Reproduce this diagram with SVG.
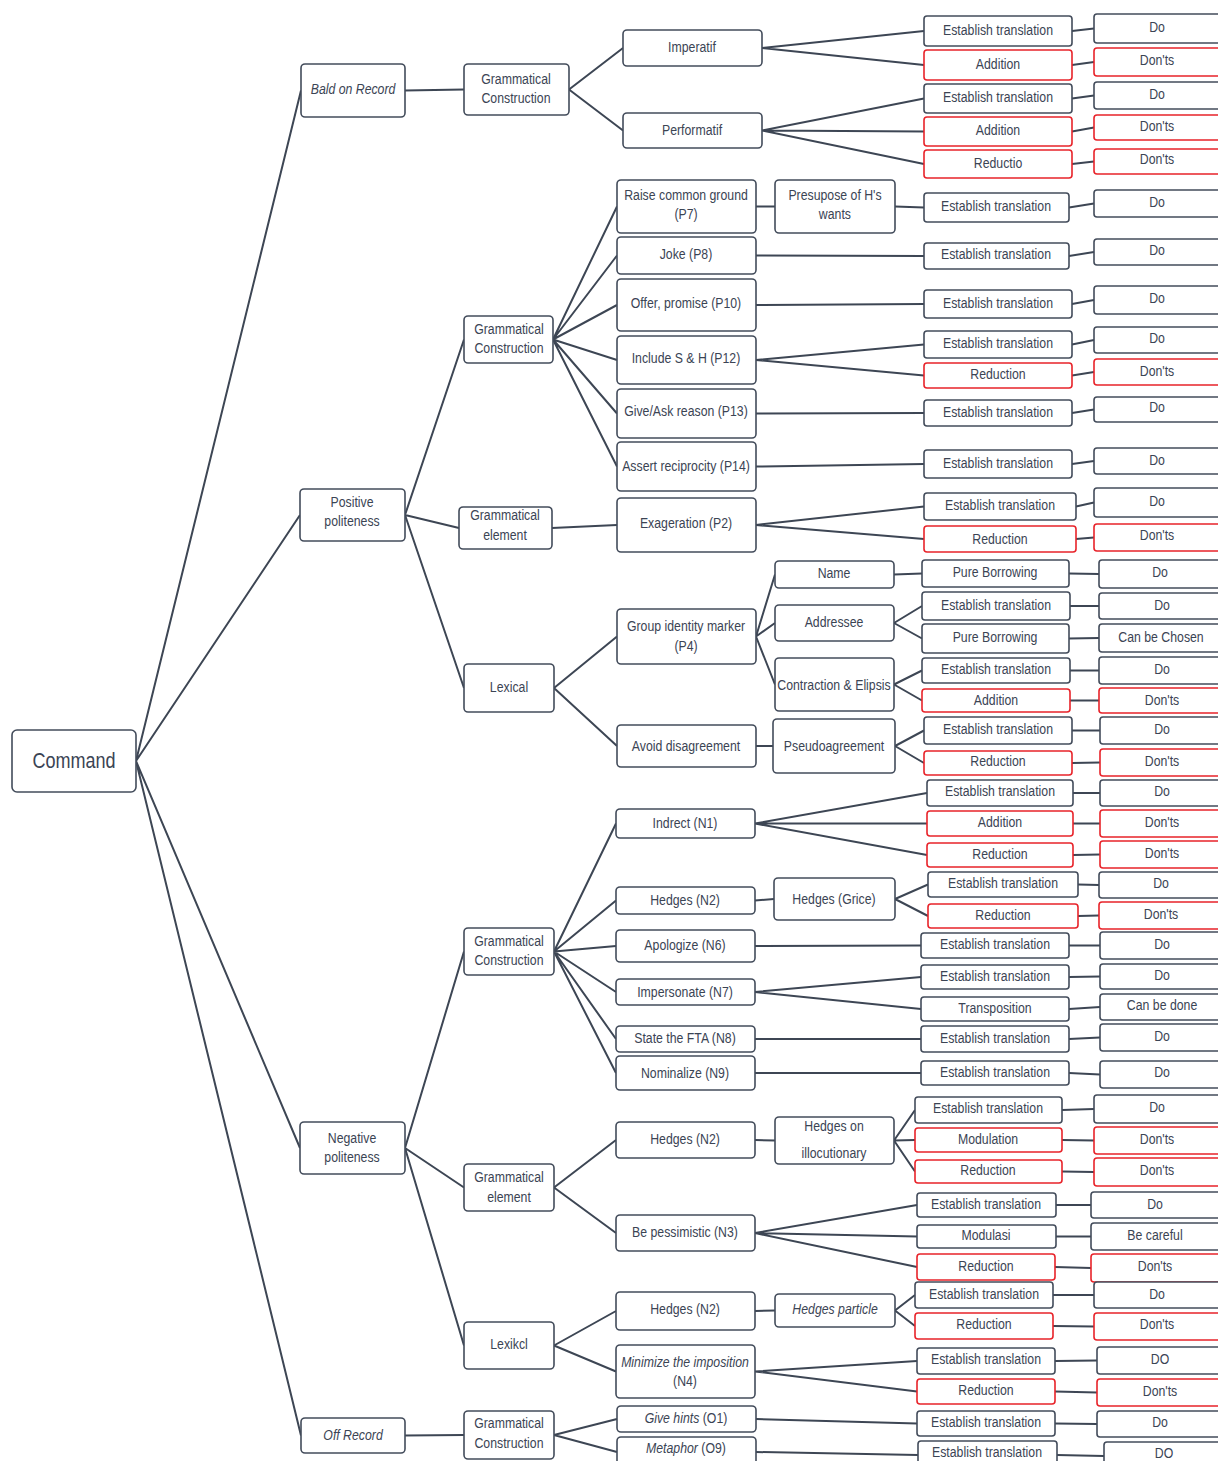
<svg xmlns="http://www.w3.org/2000/svg" width="1218" height="1461" viewBox="0 0 1218 1461">
<style>
rect{fill:#fff;stroke:#434c5b;stroke-width:1.6}
rect.r{stroke:#e8232a}
text{font-family:"Liberation Sans",Arial,sans-serif;font-size:15px;fill:#3b4454;text-anchor:middle;dominant-baseline:central;transform-box:fill-box;transform-origin:center;transform:scaleX(0.82)}
.i{font-style:italic}
.big{font-size:22px}
#connectors path{fill:none;stroke:#3d4654;stroke-width:2}
</style>
<g id="connectors">
<path d="M136,761L301,90.5M136,761L300,515M136,761L300,1148M136,761L301,1435.5"/>
<path d="M405,90.5L464,89.5M569,89.5L623,48M569,89.5L623,130.5M762,48L924,31M762,48L924,65M762,130.5L924,98.5M762,130.5L924,131.5M762,130.5L924,164"/>
<path d="M405,515L464,339.5M405,515L459,528M405,515L464,688"/>
<path d="M553,339.5L617,206.5M553,339.5L617,255.5M553,339.5L617,305M553,339.5L617,360M553,339.5L617,413.5M553,339.5L617,466.5"/>
<path d="M756,206.5L775,206.5M895,206.5L924,207.5M756,255.5L924,256M756,305L924,304M756,360L924,344.5M756,360L924,375.5M756,413.5L924,413M756,466.5L924,464"/>
<path d="M552,528L617,525M756,525L924,506.5M756,525L924,539"/>
<path d="M554,688L617,636.5M554,688L617,746M756,636.5L775,574.5M756,636.5L775,623M756,636.5L775,684.5"/>
<path d="M894,574.5L922,573.5M894,623L922,606M894,623L922,638.5M894,684.5L922,670.5M894,684.5L922,700.5M756,746L773,746M895,746L924,730.5M895,746L924,763"/>
<path d="M405,1148L464,951.5M405,1148L464,1187.5M405,1148L464,1345.5"/>
<path d="M554,951.5L616,823.5M554,951.5L616,900.5M554,951.5L616,946M554,951.5L616,992M554,951.5L616,1039M554,951.5L616,1073"/>
<path d="M755,823.5L927,793M755,823.5L927,823.5M755,823.5L927,855M755,900.5L774,899M895,899L928,884.5M895,899L928,916M755,946L921,945.5M755,992L921,977M755,992L921,1009M755,1039L921,1039M755,1073L921,1073"/>
<path d="M554,1187.5L616,1140M554,1187.5L616,1233M755,1140L775,1140.5M894,1140.5L915,1110M894,1140.5L915,1140M894,1140.5L915,1171.5M755,1233L917,1205M755,1233L917,1236.5M755,1233L917,1267"/>
<path d="M554,1345.5L616,1311M554,1345.5L616,1371.5M755,1311L775,1310.5M895,1310.5L915,1295M895,1310.5L915,1326M755,1371.5L917,1361M755,1371.5L917,1391.5"/>
<path d="M405,1435.5L464,1435M554,1435L617,1419M554,1435L617,1452M756,1419L917,1423.5M756,1452L918,1455"/>
<path d="M1072,31L1094,28.5M1072,65L1094,62M1072,98.5L1094,95.5M1072,131.5L1094,127.5M1072,164L1094,161.5M1069,207.5L1094,203.5M1069,256L1094,252M1072,304L1094,300M1072,344.5L1094,340M1072,375.5L1094,372M1072,413L1094,409.5M1072,464L1094,461M1076,506.5L1094,502.5M1076,539L1094,537.5"/>
<path d="M1069,573.5L1099,574M1070,606L1099,606M1069,638.5L1099,638M1070,670.5L1099,670.5M1070,700.5L1099,700.5M1072,730.5L1100,730.5M1072,763L1100,762.5M1073,793L1100,793M1073,823.5L1100,823.5M1073,855L1100,854.5M1078,884.5L1099,885M1078,916L1099,915.5"/>
<path d="M1069,945.5L1100,945.5M1069,977L1100,976.5M1069,1009L1100,1007M1069,1039L1100,1037.5M1069,1073L1100,1074.5M1062,1110L1094,1109M1062,1140L1094,1140.5M1062,1171.5L1094,1172M1056,1205L1091,1205M1056,1236.5L1091,1236.5M1055,1267L1091,1268M1053,1295L1094,1295M1053,1326L1094,1326.5M1055,1361L1097,1360.5M1055,1391.5L1097,1392.5M1055,1423.5L1097,1424M1057,1455L1104,1456"/>
</g>
<g id="command"><rect x="12" y="730" width="124" height="62" rx="5"/><text class="big" x="74" y="760">Command</text></g>
<g id="bald"><rect x="301" y="64" width="104" height="53" rx="4"/><text class="i" x="353" y="89">Bald on Record</text></g>
<g id="positive"><rect x="300" y="489" width="105" height="52" rx="4"/><text x="352" y="502">Positive</text><text x="352" y="521">politeness</text></g>
<g id="negative"><rect x="300" y="1122" width="105" height="52" rx="4"/><text x="352" y="1138">Negative</text><text x="352" y="1157">politeness</text></g>
<g id="off"><rect x="301" y="1418" width="104" height="35" rx="4"/><text class="i" x="353" y="1435">Off Record</text></g>
<g id="gc1"><rect x="464" y="64" width="105" height="51" rx="4"/><text x="516" y="79">Grammatical</text><text x="516" y="98">Construction</text></g>
<g id="gc2"><rect x="464" y="316" width="89" height="47" rx="4"/><text x="509" y="329">Grammatical</text><text x="509" y="348">Construction</text></g>
<g id="ge1"><rect x="459" y="507" width="93" height="42" rx="4"/><text x="505" y="515">Grammatical</text><text x="505" y="535">element</text></g>
<g id="lex1"><rect x="464" y="664" width="90" height="48" rx="4"/><text x="509" y="687">Lexical</text></g>
<g id="gc3"><rect x="464" y="928" width="90" height="47" rx="4"/><text x="509" y="941">Grammatical</text><text x="509" y="960">Construction</text></g>
<g id="ge2"><rect x="464" y="1164" width="90" height="47" rx="4"/><text x="509" y="1177">Grammatical</text><text x="509" y="1197">element</text></g>
<g id="lex2"><rect x="464" y="1322" width="90" height="47" rx="4"/><text x="509" y="1344">Lexikcl</text></g>
<g id="gc4"><rect x="464" y="1411" width="90" height="48" rx="4"/><text x="509" y="1423">Grammatical</text><text x="509" y="1443">Construction</text></g>
<g id="imp"><rect x="623" y="30" width="139" height="36" rx="4"/><text x="692" y="47">Imperatif</text></g>
<g id="perf"><rect x="623" y="113" width="139" height="35" rx="4"/><text x="692" y="130">Performatif</text></g>
<g id="raise"><rect x="617" y="180" width="139" height="53" rx="4"/><text x="686" y="195">Raise common ground</text><text x="686" y="214">(P7)</text></g>
<g id="joke"><rect x="617" y="237" width="139" height="37" rx="4"/><text x="686" y="254">Joke (P8)</text></g>
<g id="offer"><rect x="617" y="279" width="139" height="52" rx="4"/><text x="686" y="303">Offer, promise (P10)</text></g>
<g id="include"><rect x="617" y="336" width="139" height="48" rx="4"/><text x="686" y="358">Include S &amp; H (P12)</text></g>
<g id="give"><rect x="617" y="389" width="139" height="49" rx="4"/><text x="686" y="411">Give/Ask reason (P13)</text></g>
<g id="assert"><rect x="617" y="442" width="139" height="49" rx="4"/><text x="686" y="466">Assert reciprocity (P14)</text></g>
<g id="exag"><rect x="617" y="498" width="139" height="54" rx="4"/><text x="686" y="523">Exageration (P2)</text></g>
<g id="gim"><rect x="617" y="609" width="139" height="55" rx="4"/><text x="686" y="626">Group identity marker</text><text x="686" y="646">(P4)</text></g>
<g id="avoid"><rect x="617" y="725" width="139" height="42" rx="4"/><text x="686" y="746">Avoid disagreement</text></g>
<g id="indr"><rect x="616" y="809" width="139" height="29" rx="4"/><text x="685" y="823">Indrect (N1)</text></g>
<g id="hedg1"><rect x="616" y="887" width="139" height="27" rx="4"/><text x="685" y="900">Hedges (N2)</text></g>
<g id="apol"><rect x="616" y="930" width="139" height="32" rx="4"/><text x="685" y="945">Apologize (N6)</text></g>
<g id="imper"><rect x="616" y="979" width="139" height="26" rx="4"/><text x="685" y="992">Impersonate (N7)</text></g>
<g id="state"><rect x="616" y="1026" width="139" height="26" rx="4"/><text x="685" y="1038">State the FTA (N8)</text></g>
<g id="nomin"><rect x="616" y="1056" width="139" height="34" rx="4"/><text x="685" y="1073">Nominalize (N9)</text></g>
<g id="hedg2"><rect x="616" y="1122" width="139" height="36" rx="4"/><text x="685" y="1139">Hedges (N2)</text></g>
<g id="pess"><rect x="616" y="1215" width="139" height="36" rx="4"/><text x="685" y="1232">Be pessimistic (N3)</text></g>
<g id="hedg3"><rect x="616" y="1292" width="139" height="38" rx="4"/><text x="685" y="1309">Hedges (N2)</text></g>
<g id="minim"><rect x="616" y="1345" width="139" height="53" rx="4"/><text class="i" x="685" y="1362">Minimize the imposition</text><text x="685" y="1381">(N4)</text></g>
<g id="hints"><rect x="617" y="1406" width="139" height="26" rx="4"/><text x="686" y="1418"><tspan class="i">Give hints</tspan> (O1)</text></g>
<g id="meta"><rect x="617" y="1437" width="139" height="30" rx="4"/><text x="686" y="1448"><tspan class="i">Metaphor</tspan> (O9)</text></g>
<g id="presup"><rect x="775" y="180" width="120" height="53" rx="4"/><text x="835" y="195">Presupose of H's</text><text x="835" y="214">wants</text></g>
<g id="name"><rect x="775" y="561" width="119" height="27" rx="4"/><text x="834" y="573">Name</text></g>
<g id="addr"><rect x="775" y="605" width="119" height="36" rx="4"/><text x="834" y="622">Addressee</text></g>
<g id="contr"><rect x="775" y="658" width="119" height="53" rx="4"/><text x="834" y="685">Contraction &amp; Elipsis</text></g>
<g id="pseudo"><rect x="773" y="719" width="122" height="54" rx="4"/><text x="834" y="746">Pseudoagreement</text></g>
<g id="grice"><rect x="774" y="878" width="121" height="42" rx="4"/><text x="834" y="899">Hedges (Grice)</text></g>
<g id="hoi"><rect x="775" y="1117" width="119" height="47" rx="4"/><text x="834" y="1126">Hedges on</text><text x="834" y="1153">illocutionary</text></g>
<g id="hp"><rect x="775" y="1294" width="120" height="33" rx="4"/><text class="i" x="835" y="1309">Hedges particle</text></g>
<g id="et1"><rect x="924" y="16" width="148" height="30" rx="3"/><text x="998" y="30">Establish translation</text></g>
<g id="add1"><rect class="r" x="924" y="50" width="148" height="30" rx="3"/><text x="998" y="64">Addition</text></g>
<g id="et2"><rect x="924" y="84" width="148" height="29" rx="3"/><text x="998" y="97">Establish translation</text></g>
<g id="add2"><rect class="r" x="924" y="117" width="148" height="29" rx="3"/><text x="998" y="130">Addition</text></g>
<g id="red1"><rect class="r" x="924" y="150" width="148" height="28" rx="3"/><text x="998" y="163">Reductio</text></g>
<g id="et3"><rect x="924" y="193" width="145" height="29" rx="3"/><text x="996" y="206">Establish translation</text></g>
<g id="et4"><rect x="924" y="243" width="145" height="26" rx="3"/><text x="996" y="254">Establish translation</text></g>
<g id="et5"><rect x="924" y="290" width="148" height="28" rx="3"/><text x="998" y="303">Establish translation</text></g>
<g id="et6"><rect x="924" y="331" width="148" height="27" rx="3"/><text x="998" y="343">Establish translation</text></g>
<g id="red2"><rect class="r" x="924" y="363" width="148" height="25" rx="3"/><text x="998" y="374">Reduction</text></g>
<g id="et7"><rect x="924" y="400" width="148" height="26" rx="3"/><text x="998" y="412">Establish translation</text></g>
<g id="et8"><rect x="924" y="450" width="148" height="28" rx="3"/><text x="998" y="463">Establish translation</text></g>
<g id="et9"><rect x="924" y="493" width="152" height="27" rx="3"/><text x="1000" y="505">Establish translation</text></g>
<g id="red3"><rect class="r" x="924" y="526" width="152" height="26" rx="3"/><text x="1000" y="539">Reduction</text></g>
<g id="pb1"><rect x="922" y="560" width="147" height="27" rx="3"/><text x="995" y="572">Pure Borrowing</text></g>
<g id="et10"><rect x="922" y="592" width="148" height="28" rx="3"/><text x="996" y="605">Establish translation</text></g>
<g id="pb2"><rect x="922" y="624" width="147" height="29" rx="3"/><text x="995" y="637">Pure Borrowing</text></g>
<g id="et11"><rect x="922" y="658" width="148" height="25" rx="3"/><text x="996" y="669">Establish translation</text></g>
<g id="add3"><rect class="r" x="922" y="689" width="148" height="23" rx="3"/><text x="996" y="700">Addition</text></g>
<g id="et12"><rect x="924" y="717" width="148" height="27" rx="3"/><text x="998" y="729">Establish translation</text></g>
<g id="red4"><rect class="r" x="924" y="751" width="148" height="24" rx="3"/><text x="998" y="761">Reduction</text></g>
<g id="et13"><rect x="927" y="780" width="146" height="26" rx="3"/><text x="1000" y="791">Establish translation</text></g>
<g id="add4"><rect class="r" x="927" y="811" width="146" height="25" rx="3"/><text x="1000" y="822">Addition</text></g>
<g id="red5"><rect class="r" x="927" y="843" width="146" height="24" rx="3"/><text x="1000" y="854">Reduction</text></g>
<g id="et14"><rect x="928" y="872" width="150" height="25" rx="3"/><text x="1003" y="883">Establish translation</text></g>
<g id="red6"><rect class="r" x="928" y="904" width="150" height="24" rx="3"/><text x="1003" y="915">Reduction</text></g>
<g id="et15"><rect x="921" y="933" width="148" height="25" rx="3"/><text x="995" y="944">Establish translation</text></g>
<g id="et16"><rect x="921" y="965" width="148" height="24" rx="3"/><text x="995" y="976">Establish translation</text></g>
<g id="trans"><rect x="921" y="997" width="148" height="24" rx="3"/><text x="995" y="1008">Transposition</text></g>
<g id="et17"><rect x="921" y="1026" width="148" height="26" rx="3"/><text x="995" y="1038">Establish translation</text></g>
<g id="et18"><rect x="921" y="1061" width="148" height="24" rx="3"/><text x="995" y="1072">Establish translation</text></g>
<g id="et19"><rect x="915" y="1097" width="147" height="26" rx="3"/><text x="988" y="1108">Establish translation</text></g>
<g id="mod"><rect class="r" x="915" y="1128" width="147" height="24" rx="3"/><text x="988" y="1139">Modulation</text></g>
<g id="red7"><rect class="r" x="915" y="1160" width="147" height="23" rx="3"/><text x="988" y="1170">Reduction</text></g>
<g id="et20"><rect x="917" y="1193" width="139" height="24" rx="3"/><text x="986" y="1204">Establish translation</text></g>
<g id="modulasi"><rect x="917" y="1225" width="139" height="23" rx="3"/><text x="986" y="1235">Modulasi</text></g>
<g id="red8"><rect class="r" x="917" y="1254" width="138" height="26" rx="3"/><text x="986" y="1266">Reduction</text></g>
<g id="et21"><rect x="915" y="1282" width="138" height="26" rx="3"/><text x="984" y="1294">Establish translation</text></g>
<g id="red9"><rect class="r" x="915" y="1313" width="138" height="26" rx="3"/><text x="984" y="1324">Reduction</text></g>
<g id="et22"><rect x="917" y="1348" width="138" height="26" rx="3"/><text x="986" y="1359">Establish translation</text></g>
<g id="red10"><rect class="r" x="917" y="1379" width="138" height="25" rx="3"/><text x="986" y="1390">Reduction</text></g>
<g id="et23"><rect x="917" y="1411" width="138" height="25" rx="3"/><text x="986" y="1422">Establish translation</text></g>
<g id="et24"><rect x="918" y="1441" width="139" height="28" rx="3"/><text x="987" y="1452">Establish translation</text></g>
<g id="do1"><rect x="1094" y="14" width="128" height="29" rx="3"/><text x="1157" y="27">Do</text></g>
<g id="dont1"><rect class="r" x="1094" y="48" width="128" height="28" rx="3"/><text x="1157" y="60">Don'ts</text></g>
<g id="do2"><rect x="1094" y="82" width="128" height="27" rx="3"/><text x="1157" y="94">Do</text></g>
<g id="dont2"><rect class="r" x="1094" y="115" width="128" height="25" rx="3"/><text x="1157" y="126">Don'ts</text></g>
<g id="dont3"><rect class="r" x="1094" y="149" width="128" height="25" rx="3"/><text x="1157" y="159">Don'ts</text></g>
<g id="do3"><rect x="1094" y="190" width="128" height="27" rx="3"/><text x="1157" y="202">Do</text></g>
<g id="do4"><rect x="1094" y="239" width="128" height="26" rx="3"/><text x="1157" y="250">Do</text></g>
<g id="do5"><rect x="1094" y="286" width="128" height="28" rx="3"/><text x="1157" y="298">Do</text></g>
<g id="do6"><rect x="1094" y="327" width="128" height="26" rx="3"/><text x="1157" y="338">Do</text></g>
<g id="dont4"><rect class="r" x="1094" y="359" width="128" height="26" rx="3"/><text x="1157" y="371">Don'ts</text></g>
<g id="do7"><rect x="1094" y="397" width="128" height="25" rx="3"/><text x="1157" y="407">Do</text></g>
<g id="do8"><rect x="1094" y="448" width="128" height="26" rx="3"/><text x="1157" y="460">Do</text></g>
<g id="do9"><rect x="1094" y="488" width="128" height="29" rx="3"/><text x="1157" y="501">Do</text></g>
<g id="dont5"><rect class="r" x="1094" y="524" width="128" height="27" rx="3"/><text x="1157" y="535">Don'ts</text></g>
<g id="do10"><rect x="1099" y="560" width="123" height="28" rx="3"/><text x="1160" y="572">Do</text></g>
<g id="do11"><rect x="1099" y="593" width="123" height="26" rx="3"/><text x="1162" y="605">Do</text></g>
<g id="chosen"><rect x="1099" y="624" width="123" height="28" rx="3"/><text x="1161" y="637">Can be Chosen</text></g>
<g id="do12"><rect x="1099" y="657" width="123" height="27" rx="3"/><text x="1162" y="669">Do</text></g>
<g id="dont6"><rect class="r" x="1099" y="688" width="123" height="25" rx="3"/><text x="1162" y="700">Don'ts</text></g>
<g id="do13"><rect x="1100" y="717" width="122" height="27" rx="3"/><text x="1162" y="729">Do</text></g>
<g id="dont7"><rect class="r" x="1100" y="749" width="122" height="27" rx="3"/><text x="1162" y="761">Don'ts</text></g>
<g id="do14"><rect x="1100" y="780" width="122" height="26" rx="3"/><text x="1162" y="791">Do</text></g>
<g id="dont8"><rect class="r" x="1100" y="810" width="122" height="27" rx="3"/><text x="1162" y="822">Don'ts</text></g>
<g id="dont9"><rect class="r" x="1100" y="841" width="122" height="27" rx="3"/><text x="1162" y="853">Don'ts</text></g>
<g id="do15"><rect x="1099" y="872" width="123" height="26" rx="3"/><text x="1161" y="883">Do</text></g>
<g id="dont10"><rect class="r" x="1099" y="902" width="123" height="27" rx="3"/><text x="1161" y="914">Don'ts</text></g>
<g id="do16"><rect x="1100" y="932" width="122" height="27" rx="3"/><text x="1162" y="944">Do</text></g>
<g id="do17"><rect x="1100" y="964" width="122" height="25" rx="3"/><text x="1162" y="975">Do</text></g>
<g id="cbd"><rect x="1100" y="994" width="122" height="26" rx="3"/><text x="1162" y="1005">Can be done</text></g>
<g id="do18"><rect x="1100" y="1024" width="122" height="27" rx="3"/><text x="1162" y="1036">Do</text></g>
<g id="do19"><rect x="1100" y="1061" width="122" height="27" rx="3"/><text x="1162" y="1072">Do</text></g>
<g id="do20"><rect x="1094" y="1095" width="128" height="28" rx="3"/><text x="1157" y="1107">Do</text></g>
<g id="dont11"><rect class="r" x="1094" y="1127" width="128" height="27" rx="3"/><text x="1157" y="1139">Don'ts</text></g>
<g id="dont12"><rect class="r" x="1094" y="1158" width="128" height="28" rx="3"/><text x="1157" y="1170">Don'ts</text></g>
<g id="do21"><rect x="1091" y="1192" width="131" height="26" rx="3"/><text x="1155" y="1204">Do</text></g>
<g id="careful"><rect x="1091" y="1223" width="131" height="27" rx="3"/><text x="1155" y="1235">Be careful</text></g>
<g id="dont13"><rect class="r" x="1091" y="1254" width="131" height="28" rx="3"/><text x="1155" y="1266">Don'ts</text></g>
<g id="do22"><rect x="1094" y="1282" width="128" height="26" rx="3"/><text x="1157" y="1294">Do</text></g>
<g id="dont14"><rect class="r" x="1094" y="1313" width="128" height="27" rx="3"/><text x="1157" y="1324">Don'ts</text></g>
<g id="do23"><rect x="1097" y="1347" width="125" height="27" rx="3"/><text x="1160" y="1359">DO</text></g>
<g id="dont15"><rect class="r" x="1097" y="1379" width="125" height="27" rx="3"/><text x="1160" y="1391">Don'ts</text></g>
<g id="do24"><rect x="1097" y="1411" width="125" height="26" rx="3"/><text x="1160" y="1422">Do</text></g>
<g id="do25"><rect x="1104" y="1442" width="118" height="28" rx="3"/><text x="1164" y="1453">DO</text></g>
</svg>
